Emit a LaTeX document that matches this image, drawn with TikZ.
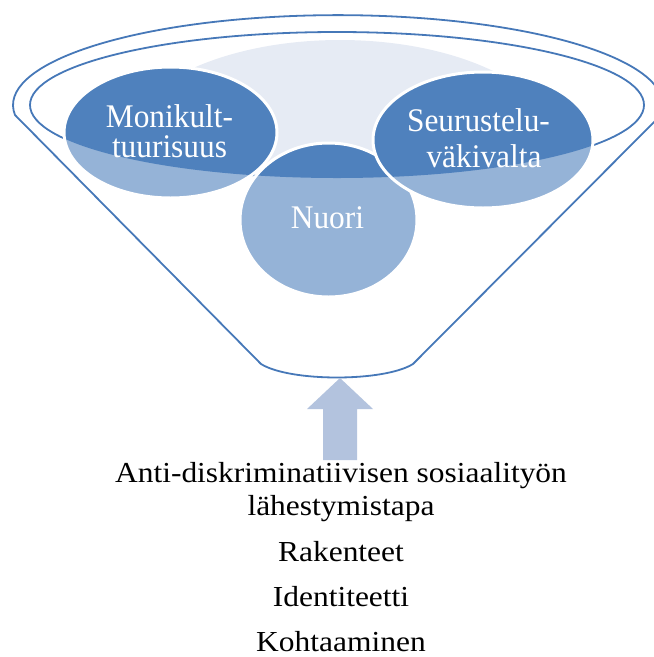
\documentclass[tikz,border=0pt]{standalone}
\usepackage{fontspec}
\setmainfont[FakeStretch=1.085]{Liberation Serif}
\newfontfamily\circfont[FakeStretch=0.95]{Liberation Serif}
\definecolor{rimblue}{HTML}{4678B8}
\definecolor{darkblue}{HTML}{4F81BD}
\definecolor{liteblue}{HTML}{95B3D7}
\definecolor{paleblue}{HTML}{E6EBF4}
\definecolor{arrowblue}{HTML}{B3C3DE}

%% one bubble: light fill, dark where it lies inside the rim, white edge
\newcommand\bubble[4]{%
  \fill[liteblue] (#1,#2) ellipse [x radius=#3, y radius=#4];
  \begin{scope}
    \clip (337,105) ellipse [x radius=307, y radius=73];
    \fill[darkblue] (#1,#2) ellipse [x radius=#3, y radius=#4];
  \end{scope}
  \draw[white, line width=3pt] (#1,#2) ellipse [x radius=#3, y radius=#4];
}

\begin{document}
\begin{tikzpicture}[x=1pt,y=-1pt]
\tikzset{
  rim/.style={draw=rimblue, line width=1.8pt, line join=round},
  circtxt/.style={anchor=base, text=white, inner sep=0pt,
    font=\circfont\fontsize{33}{36}\selectfont},
  basetxt/.style={anchor=base, inner sep=0pt,
    font=\fontsize{29}{33}\selectfont},
}
\useasboundingbox (0,0) rectangle (654,657);

%% Funnel
\draw[rim] (15,115) arc[start angle=173.7, end angle=366.3, x radius=325, y radius=90]
  -- (413,364) .. controls (384,382) and (290,382) .. (261,364) -- cycle;

%% Inner rim
\draw[rim] (337,105) ellipse [x radius=307, y radius=73];

%% Pale shape at the back
\begin{scope}
  \clip (337,105) ellipse [x radius=305, y radius=71];
  \fill[paleblue] (340,150) ellipse [x radius=220, y radius=110];
\end{scope}

%% Shape Nuori
\bubble{328.5}{220}{88.5}{77}
%% Shape Monikulttuurisuus
\bubble{170.5}{132.5}{106.5}{65.5}
%% Shape Seurusteluvakivalta
\bubble{483}{140}{110}{68}

\node[circtxt] (monikult) at (169.5,127) {Monikult-};
\node[circtxt] (tuurisuus) at (169.5,157) {tuurisuus};
\node[circtxt] (seurustelu) at (478.5,131) {Seurustelu-};
\node[circtxt] (vakivalta) at (484,167) {väkivalta};
\node[circtxt] (nuori) at (327.5,228) {Nuori};

%% Arrow
\fill[arrowblue] (340,378) -- (373,409) -- (357,409) -- (357,460)
  -- (323,460) -- (323,409) -- (307,409) -- cycle;

\node[basetxt] (anti) at (341,482) {Anti-diskriminatiivisen sosiaalityön};
\node[basetxt] (lahest) at (341,515) {lähestymistapa};
\node[basetxt] (rakenteet) at (341,561) {Rakenteet};
\node[basetxt] (identiteetti) at (341,606) {Identiteetti};
\node[basetxt] (kohtaaminen) at (341,651) {Kohtaaminen};
\end{tikzpicture}
\end{document}
